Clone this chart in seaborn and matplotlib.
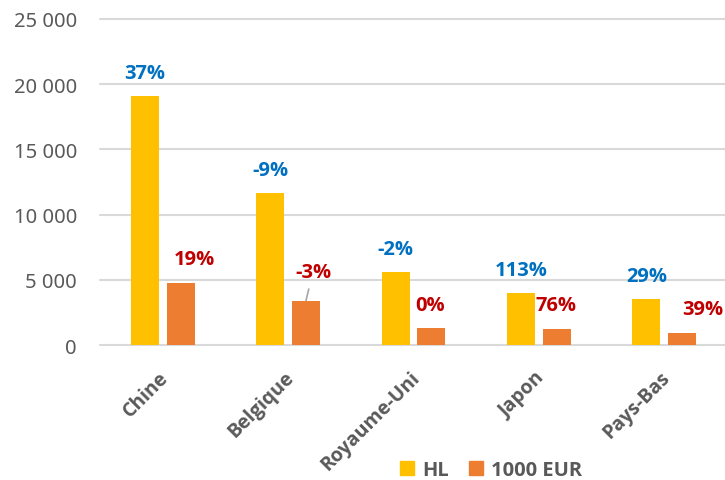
import os
import pandas as pd
import matplotlib.pyplot as plt
import seaborn as sns
from matplotlib import font_manager as fm
from matplotlib.patches import Patch
from matplotlib.transforms import ScaledTranslation

# Data
countries = ['Chine', 'Belgique', 'Royaume-Uni', 'Japon', 'Pays-Bas']
hl = [19100, 11650, 5600, 3950, 3500]
eur = [4750, 3400, 1300, 1250, 950]
hl_change = ['37%', '-9%', '-2%', '113%', '29%']
eur_change = ['19%', '-3%', '0%', '76%', '39%']
series = ['HL', '1000 EUR']

df = pd.DataFrame({
    'Pays': countries * 2,
    'Valeur': hl + eur,
    'Série': [series[0]] * len(countries) + [series[1]] * len(countries),
})

colors = ['#FFC000', '#ED7D31']
label_colors = ['#0070C0', '#C00000']
grey = '#595959'

sns.set_style('white')
plt.rcParams['font.family'] = ['Noto Sans', 'DejaVu Sans']

# matplotlib does not pick the bold face by itself here, so look the file up
bold_file = None
files = {os.path.basename(f.fname): f.fname for f in fm.fontManager.ttflist}
for name in ['NotoSans-Bold.ttf', 'OpenSans-Bold.ttf', 'Lato-Bold.ttf', 'LiberationSans-Bold.ttf']:
    if name in files:
        bold_file = files[name]
        break


def bold(size):
    if bold_file:
        return fm.FontProperties(fname=bold_file, size=size)
    return fm.FontProperties(family='DejaVu Sans', weight='bold', size=size)


fig = plt.figure(figsize=(7.25, 4.81), dpi=100)
ax = fig.add_axes([100 / 725, 1 - 346 / 481, 627 / 725, 326 / 481])
sns.barplot(data=df, x='Pays', y='Valeur', hue='Série', palette=colors,
            width=0.57, gap=0.216, saturation=1, errorbar=None,
            linewidth=0, legend=False, ax=ax)

ax.set_xlim(-0.5, 4.5)
ax.set_ylim(0, 25000)
ticks = list(range(0, 25001, 5000))
ax.set_yticks(ticks)
ax.set_yticklabels([f"{t:,}".replace(',', ' ') for t in ticks], fontsize=14.5, color=grey)
ax.yaxis.grid(True, color='#D9D9D9', linewidth=1.5)
for g in ax.get_ygridlines():
    g.set_clip_on(False)
ax.set_axisbelow(True)
for s in ax.spines.values():
    s.set_visible(False)
ax.set_xlabel('')
ax.set_ylabel('')
ax.tick_params(axis='both', length=0)
ax.tick_params(axis='y', pad=16.5)
ax.tick_params(axis='x', pad=21)

# rotated category labels, right end just past the bar pair
for lbl in ax.get_xticklabels():
    lbl.set_rotation(45)
    lbl.set_rotation_mode('anchor')
    lbl.set_ha('right')
    lbl.set_va('center')
    lbl.set_fontproperties(bold(14))
    lbl.set_color(grey)
    lbl.set_transform(lbl.get_transform() + ScaledTranslation(0.03, 0, fig.dpi_scale_trans))

# percentage labels above the bars (offsets in pixels)
shifts = [
    [(0, 18), (0, 18), (0, 18), (0, 18.5), (0, 18.5)],
    [(14, 19), (7, 24), (-1, 18.5), (-1, 18.5), (21, 18.5)],
]
for i, (cont, texts) in enumerate(zip(ax.containers, [hl_change, eur_change])):
    for bar, txt, (dx, dy) in zip(cont, texts, shifts[i]):
        x = bar.get_x() + bar.get_width() / 2
        y = bar.get_height()
        arrow = None
        if txt == '-3%':
            arrow = dict(arrowstyle='-', color='#A6A6A6', lw=1.2, shrinkA=3, shrinkB=0)
        ax.annotate(txt, (x, y), xytext=(dx, dy), textcoords='offset pixels',
                    ha='center', va='baseline', fontproperties=bold(14.5),
                    color=label_colors[i], arrowprops=arrow)

handles = [Patch(color=c) for c in colors]
leg = fig.legend(handles, series, loc='center', bbox_to_anchor=(491 / 725, 1 - 471 / 481),
                 ncol=2, frameon=False, handlelength=0.7, handleheight=0.7,
                 handletextpad=0.4, columnspacing=1.0, prop=bold(14.5))
for t in leg.get_texts():
    t.set_color(grey)

fig.savefig('out.png', dpi=100)
